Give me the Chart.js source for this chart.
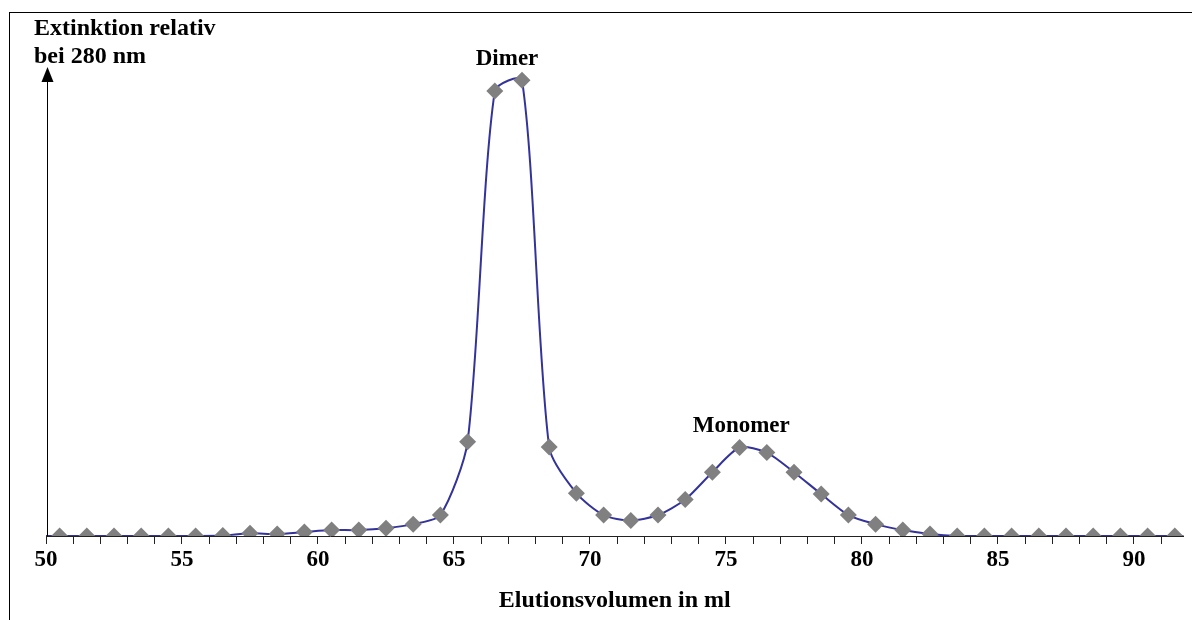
<!DOCTYPE html>
<html>
<head>
<meta charset="utf-8">
<script src="https://cdn.jsdelivr.net/npm/chart.js@4/dist/chart.umd.min.js"></script>
<style>
  html, body { margin: 0; padding: 0; background: #fff; }
  #wrap { position: relative; width: 1192px; height: 620px; overflow: hidden; }
  #frame { position: absolute; left: 9px; top: 12px; width: 1200px; height: 700px;
           border-top: 1px solid #000; border-left: 1px solid #000; box-sizing: border-box; }
  canvas { position: absolute; left: 0; top: 0; }
</style>
</head>
<body>
<div id="wrap">
  <div id="frame"></div>
  <canvas id="c" width="1192" height="620"></canvas>
</div>
<script>
// Elution volume (ml) of each measured fraction
const volumes = [49.5, 50.5, 51.5, 52.5, 53.5, 54.5, 55.5, 56.5, 57.5, 58.5, 59.5,
                 60.5, 61.5, 62.5, 63.5, 64.5, 65.5, 66.5, 67.5, 68.5, 69.5,
                 70.5, 71.5, 72.5, 73.5, 74.5, 75.5, 76.5, 77.5, 78.5, 79.5,
                 80.5, 81.5, 82.5, 83.5, 84.5, 85.5, 86.5, 87.5, 88.5, 89.5,
                 90.5, 91.5, 92.5];
// Relative extinction at 280 nm (peak = 1)
const extinction = [0, 0, 0, 0, 0, 0, 0, 0.001, 0.006, 0.0044, 0.0088,
                    0.013, 0.013, 0.017, 0.026, 0.046, 0.207, 0.976, 1.0, 0.195, 0.094,
                    0.046, 0.034, 0.046, 0.080, 0.140, 0.194, 0.183, 0.140, 0.092, 0.046,
                    0.026, 0.013, 0.0044, 0, 0, 0, 0, 0, 0, 0,
                    0, 0, 0];
const xTickStep = 1;
const xLabelEvery = 5;
const xMin = 50, xMax = 91.82;
const yTitleLines = ["Extinktion relativ", "bei 280 nm"];
const xTitle = "Elutionsvolumen in ml";
const peakLabels = [
  { text: "Dimer",   x: 66.95, y: 1.033 },
  { text: "Monomer", x: 75.56, y: 0.229 }
];

const FONT = "'Liberation Serif', 'Times New Roman', serif";

const decor = {
  id: 'decor',
  afterDraw(chart) {
    const { ctx, chartArea, scales } = chart;
    const xs = scales.x, ys = scales.y;
    ctx.save();
    // y axis line with arrow
    const ax = Math.round(chartArea.left) + 1.5;
    ctx.strokeStyle = '#000';
    ctx.lineWidth = 1;
    ctx.beginPath();
    ctx.moveTo(ax, chartArea.bottom);
    ctx.lineTo(ax, chartArea.top + 14);
    ctx.stroke();
    ctx.fillStyle = '#000';
    ctx.beginPath();
    ctx.moveTo(ax, chartArea.top + 1);
    ctx.lineTo(ax - 6, chartArea.top + 16);
    ctx.lineTo(ax + 6, chartArea.top + 16);
    ctx.closePath();
    ctx.fill();
    // y title
    ctx.font = "bold 24px " + FONT;
    ctx.textAlign = 'left';
    ctx.textBaseline = 'alphabetic';
    ctx.fillText(yTitleLines[0], 34, 35);
    ctx.fillText(yTitleLines[1], 34, 63);
    // peak labels
    ctx.font = "bold 23px " + FONT;
    ctx.textAlign = 'center';
    peakLabels.forEach(p => {
      ctx.fillText(p.text, xs.getPixelForValue(p.x), ys.getPixelForValue(p.y));
    });
    ctx.restore();
  }
};

new Chart(document.getElementById('c'), {
  type: 'line',
  data: {
    datasets: [{
      data: volumes.map((v, i) => ({ x: v, y: extinction[i] })),
      borderColor: '#333399',
      borderWidth: 2,
      tension: 0.25,
      pointStyle: 'rectRot',
      pointRadius: 8.5,
      pointBackgroundColor: '#808080',
      pointBorderColor: '#808080',
      pointBorderWidth: 0,
      fill: false
    }]
  },
  options: {
    responsive: false,
    animation: false,
    events: [],
    layout: { padding: { left: 46, right: 0, top: 66, bottom: 0 } },
    plugins: { legend: { display: false }, tooltip: { enabled: false } },
    scales: {
      x: {
        type: 'linear',
        min: xMin,
        max: xMax,
        afterFit(scale) { scale.height = 84; },
        border: { display: true, color: '#222', width: 1 },
        grid: { drawOnChartArea: false, drawTicks: true, tickLength: 8, color: '#222' },
        ticks: {
          stepSize: xTickStep,
          autoSkip: false,
          includeBounds: false,
          maxRotation: 0,
          padding: 2,
          color: '#000',
          font: { family: FONT, size: 23, weight: 'bold' },
          callback: v => (v % xLabelEvery === 0 ? String(v) : '')
        },
        title: {
          display: true,
          text: xTitle,
          color: '#000',
          font: { family: FONT, size: 24, weight: 'bold' },
          padding: { top: 0, bottom: 5 }
        }
      },
      y: {
        display: false,
        min: 0,
        max: 1.031
      }
    }
  },
  plugins: [decor]
});
</script>
</body>
</html>
